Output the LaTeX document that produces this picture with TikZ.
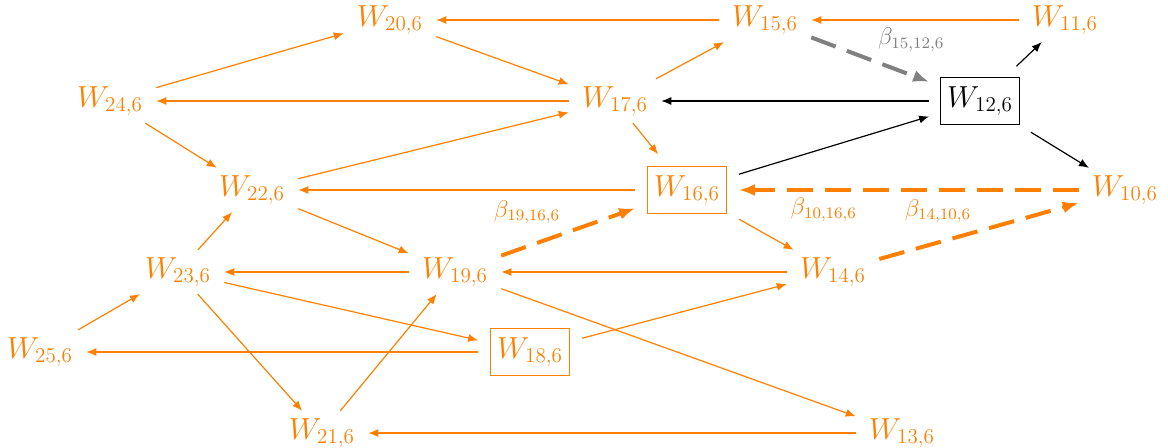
\documentclass[tikz,border=0pt]{standalone}
\usepackage{graphicx}
\usetikzlibrary{arrows.meta}
\definecolor{org}{RGB}{255,128,0}
\definecolor{gry}{RGB}{128,128,128}
\newcommand{\wl}[1]{\scalebox{0.88}{$W_{#1}$}}
\begin{document}
\begin{tikzpicture}[x=0.5pt,y=-0.5pt,
  wn/.style={text=org, font=\LARGE, inner xsep=4.5pt, inner ysep=1.5pt, outer sep=2.2pt},
  wbox/.style={draw=org, text=org, font=\LARGE, inner xsep=3.5pt, inner ysep=4.5pt, outer sep=6pt, line width=0.6pt},
  kbox/.style={wbox, draw=black, text=black, outer sep=5.5pt},
  e/.style={draw=org, line width=0.6pt, -{Latex[length=5pt,width=4pt]}},
  eb/.style={draw=black, line width=0.6pt, -{Latex[length=5pt,width=4pt]}},
  ed/.style={draw=org, line width=2pt, dash pattern=on 13pt off 6pt, -{Latex[length=8pt,width=6pt]}},
  eg/.style={ed, draw=gry},
  lb/.style={font=\large, text=org, inner sep=3pt},
  lg/.style={lb, text=gry},
]
\useasboundingbox (0,0) rectangle (1168,448);
\node[wn] (w20) at (390,20) {\wl{20,6}};
\node[wn] (w15) at (765,20) {\wl{15,6}};
\node[wn] (w11) at (1065,20) {\wl{11,6}};
\node[wn] (w24) at (110,101) {\wl{24,6}};
\node[wn] (w17) at (615,101) {\wl{17,6}};
\node[kbox] (w12) at (980,101) {\wl{12,6}};
\node[wn] (w22) at (252,190) {\wl{22,6}};
\node[wbox] (w16) at (687,190) {\wl{16,6}};
\node[wn] (w10) at (1125,190) {\wl{10,6}};
\node[wn] (w23) at (178,272) {\wl{23,6}};
\node[wn] (w19) at (455,272) {\wl{19,6}};
\node[wn] (w14) at (833,272) {\wl{14,6}};
\node[wn] (w25) at (40,352) {\wl{25,6}};
\node[wbox] (w18) at (530,352) {\wl{18,6}};
\node[wn] (w21) at (322,433) {\wl{21,6}};
\node[wn] (w13) at (902,433) {\wl{13,6}};

\draw[e] (w15) -- (w20);
\draw[e] (w11) -- (w15);
\draw[e] (w20) -- (w17);
\draw[e] (w17) -- (w15);
\draw[e] (w17) -- (w24);
\draw[e] (w24) -- (w20);
\draw[e] (w24) -- (w22);
\draw[e] (w17) -- (w16);
\draw[e] (w22) -- (w17);
\draw[e] (w16) -- (w22);
\draw[e] (w22) -- (w19);
\draw[e] (w16) -- (w14);
\draw[e] (w14) -- (w19);
\draw[e] (w19) -- (w23);
\draw[e] (w23) -- (w22);
\draw[e] (w25) -- (w23);
\draw[e] (w23) -- (w18);
\draw[e] (w23) -- (w21);
\draw[e] (w21) -- (w19);
\draw[e] (w18) -- (w25);
\draw[e] (w18) -- (w14);
\draw[e] (w19) -- (w13);
\draw[e] (w13) -- (w21);

\draw[eb] (w12) -- (w11);
\draw[eb] (w12) -- (w17);
\draw[eb] (w12) -- (w10);
\draw[eb] (w16) -- (w12);

\draw[eg] (w15) -- node[lg, midway, above right] (l1) {$\beta_{15,12,6}$} (w12);
\draw[ed] (w10) -- node[lb, pos=0.75, below] (l2) {$\beta_{10,16,6}$} (w16);
\draw[ed] (w14) -- node[lb, midway, above left] (l3) {$\beta_{14,10,6}$} (w10);
\draw[ed] (w19) -- node[lb, midway, above left] (l4) {$\beta_{19,16,6}$} (w16);
\end{tikzpicture}
\end{document}
